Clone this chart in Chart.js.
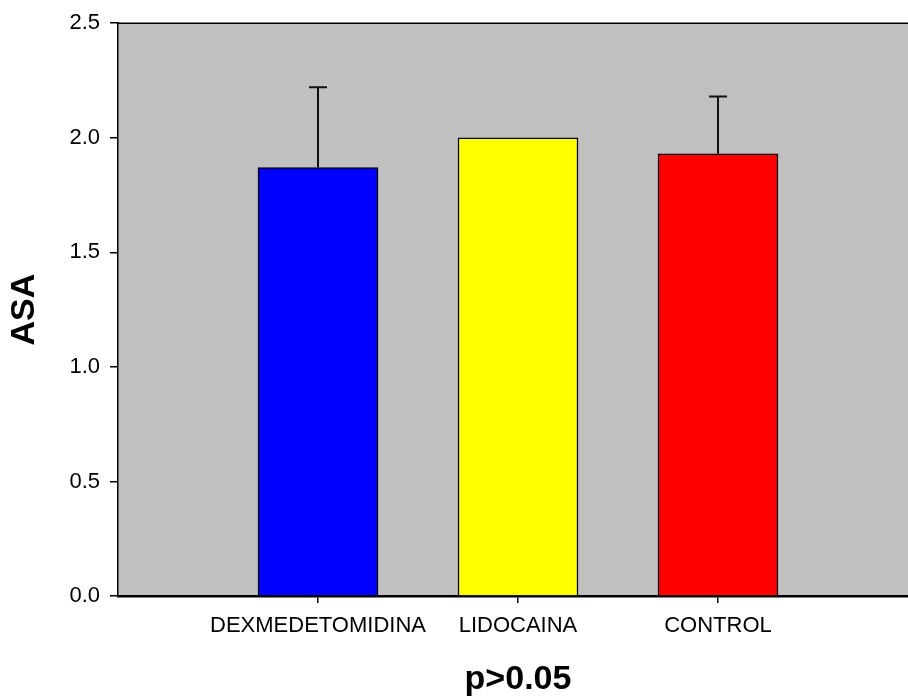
<!DOCTYPE html>
<html>
<head>
<meta charset="utf-8">
<script src="https://cdn.jsdelivr.net/npm/chart.js@4"></script>
<style>
  body { margin: 0; overflow: hidden; background: #fff; }
  #frame { width: 908px; height: 700px; overflow: hidden; }
  #wrap { width: 930px; height: 700px; }
</style>
</head>
<body>
<div id="frame"><div id="wrap"><canvas id="asaChart" width="930" height="700"></canvas></div></div>
<script>
const groups = ["DEXMEDETOMIDINA", "LIDOCAINA", "CONTROL"];
const positions = [1, 2, 3];
const means = [1.87, 2.0, 1.93];
const errors = [0.35, 0, 0.25];
const barColors = ["#0000FF", "#FFFF00", "#FF0000"];
const yTicks = [0, 0.5, 1.0, 1.5, 2.0, 2.5];

const font = "'Liberation Sans', Arial, sans-serif";

// grey plot background + top frame line
const plotFrame = {
  id: "plotFrame",
  beforeDraw(chart) {
    const { ctx, chartArea: a } = chart;
    ctx.save();
    ctx.fillStyle = "#C0C0C0";
    ctx.fillRect(a.left, a.top, a.right - a.left, a.bottom - a.top);
    ctx.strokeStyle = "#000";
    ctx.lineWidth = 1.5;
    ctx.beginPath();
    ctx.moveTo(a.left, a.top);
    ctx.lineTo(a.right, a.top);
    ctx.stroke();
    ctx.restore();
  }
};

// upper-only error bars
const errorBars = {
  id: "errorBars",
  afterDatasetsDraw(chart) {
    const { ctx } = chart;
    const y = chart.scales.y;
    const meta = chart.getDatasetMeta(0);
    ctx.save();
    ctx.strokeStyle = "#111";
    ctx.lineWidth = 2;
    meta.data.forEach((bar, i) => {
      if (!errors[i]) return;
      const top = y.getPixelForValue(means[i] + errors[i]);
      const base = y.getPixelForValue(means[i]);
      ctx.beginPath();
      ctx.moveTo(bar.x, base);
      ctx.lineTo(bar.x, top);
      ctx.moveTo(bar.x - 9, top);
      ctx.lineTo(bar.x + 9, top);
      ctx.stroke();
    });
    ctx.restore();
  }
};

new Chart(document.getElementById("asaChart"), {
  type: "bar",
  data: {
    datasets: [{
      data: positions.map((p, i) => ({ x: p, y: means[i] })),
      backgroundColor: barColors,
      borderColor: "#000",
      borderWidth: 1.5,
      barThickness: 120
    }]
  },
  options: {
    responsive: false,
    animation: false,
    layout: { padding: { left: 0, top: 18, right: 12, bottom: 0 } },
    plugins: { legend: { display: false }, tooltip: { enabled: false } },
    scales: {
      x: {
        type: "linear",
        min: 0,
        max: 4,
        offset: false,
        afterFit(s) { s.height = 104; },
        afterBuildTicks(s) { s.ticks = positions.map(v => ({ value: v })); },
        grid: { offset: false, drawOnChartArea: false, tickLength: 7, color: "#000", lineWidth: 1.5 },
        border: { display: true, color: "#000", width: 2.5 },
        ticks: {
          padding: 10,
          color: "#000",
          maxRotation: 0,
          font: { family: font, size: 22 },
          callback: v => groups[positions.indexOf(v)] || ""
        },
        title: {
          display: true,
          text: "p>0.05",
          color: "#000",
          padding: { top: 0, bottom: 0 },
          font: { family: font, size: 34, weight: "bold" }
        }
      },
      y: {
        min: 0,
        max: 2.5,
        afterFit(s) { s.width = 118; },
        afterBuildTicks(s) { s.ticks = yTicks.map(v => ({ value: v })); },
        grid: { drawOnChartArea: false, tickLength: 8, color: "#000", lineWidth: 1.5 },
        border: { display: true, color: "#000", width: 1.5 },
        ticks: {
          padding: 10,
          color: "#000",
          font: { family: font, size: 22 },
          callback: v => v.toFixed(1)
        },
        title: {
          display: true,
          text: "ASA",
          color: "#000",
          padding: { top: 4, bottom: 0 },
          font: { family: font, size: 34, weight: "bold" }
        }
      }
    }
  },
  plugins: [plotFrame, errorBars]
});
</script>
</body>
</html>
